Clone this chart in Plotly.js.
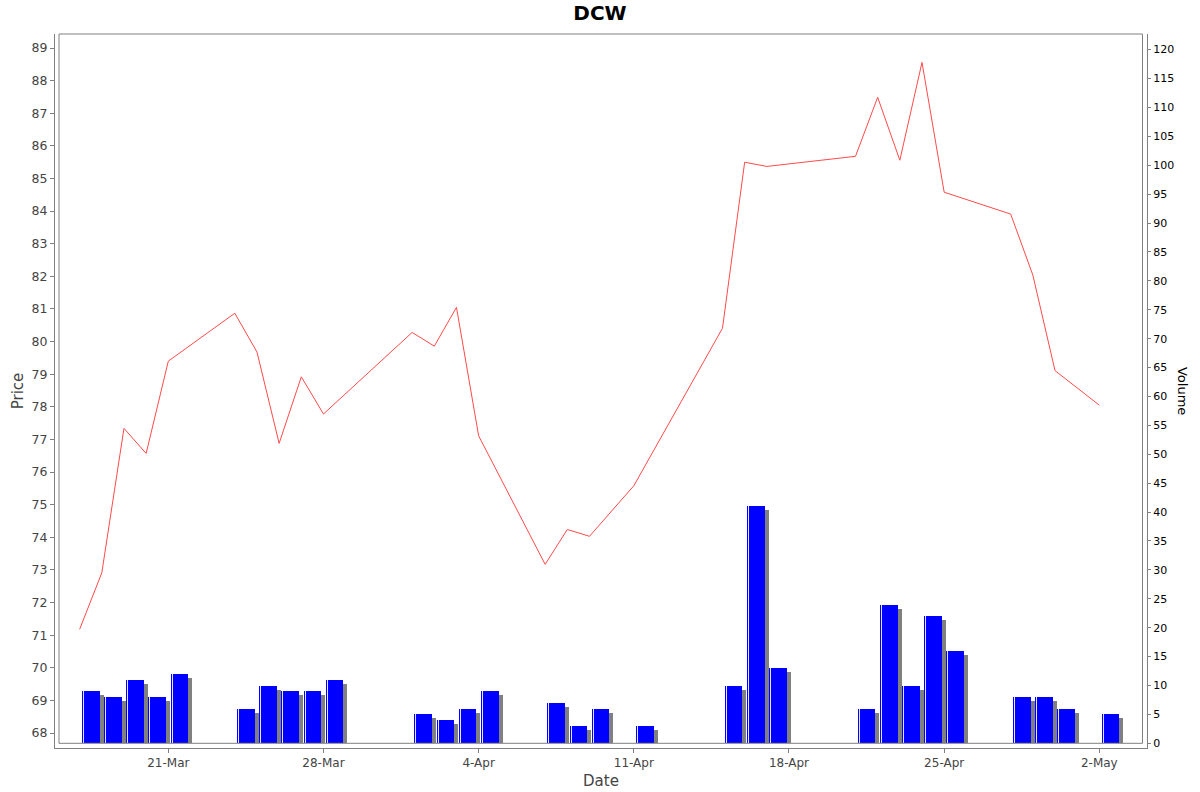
<!DOCTYPE html>
<html>
<head>
<meta charset="utf-8">
<script src="https://cdn.plot.ly/plotly-3.0.1.min.js"></script>
<style>
  html, body { margin: 0; padding: 0; background: #fff; }
  #chart { width: 1200px; height: 792px; }
</style>
</head>
<body>
<div id="chart"></div>
<script>
// trading days (2025)
const dates = [
    '2025-03-17', '2025-03-18', '2025-03-19', '2025-03-20', '2025-03-21',
    '2025-03-24', '2025-03-25', '2025-03-26', '2025-03-27', '2025-03-28',
    '2025-04-01', '2025-04-02', '2025-04-03', '2025-04-04',
    '2025-04-07', '2025-04-08', '2025-04-09', '2025-04-11',
    '2025-04-15', '2025-04-16', '2025-04-17',
    '2025-04-21', '2025-04-22', '2025-04-23', '2025-04-24', '2025-04-25',
    '2025-04-28', '2025-04-29', '2025-04-30', '2025-05-02'
];

const price = [
    71.18, 72.91, 77.34, 76.57, 79.40,
    80.87, 79.68, 76.88, 78.92, 77.78,
    80.28, 79.86, 81.05, 77.11,
    73.17, 74.24, 74.03, 75.58,
    80.41, 85.50, 85.37,
    85.68, 87.49, 85.56, 88.56, 84.58,
    83.91, 82.04, 79.11, 78.05
];

const volume = [
    9, 8, 11, 8, 12,
    6, 10, 9, 9, 11,
    5, 4, 6, 9,
    7, 3, 6, 3,
    10, 41, 13,
    6, 24, 10, 22, 16,
    8, 8, 6, 5
];

const DAY = 86400000;
const PX_DAY = 22.167;          // pixels per day on the date axis
const PX_VOL = 5.78;            // pixels per volume unit
const shadowPx = 4;

const gray = '#808080';
const textGray = '#444444';
const font = 'DejaVu Sans, Verdana, sans-serif';

// soft shadow behind each volume bar
const shadow = {
    x: dates,
    y: volume.map(v => v - shadowPx / PX_VOL),
    type: 'bar',
    yaxis: 'y2',
    width: 0.8 * DAY,
    offset: 0.1 * DAY + shadowPx / PX_DAY * DAY,
    marker: { color: gray, line: { width: 0 } },
    hoverinfo: 'skip',
    showlegend: false
};

const bars = {
    x: dates,
    y: volume,
    type: 'bar',
    name: 'Volume',
    yaxis: 'y2',
    width: 0.8 * DAY,
    offset: 0.1 * DAY,
    marker: { color: '#0000ff', line: { width: 0 } },
    showlegend: false
};

// thin highlight near the left edge of each bar
const shine = {
    x: dates,
    y: volume,
    type: 'bar',
    yaxis: 'y2',
    width: 1 / PX_DAY * DAY,
    offset: 0.1 * DAY + 1 / PX_DAY * DAY,
    marker: { color: '#e4e4ff', line: { width: 0 } },
    hoverinfo: 'skip',
    showlegend: false
};

const line = {
    x: dates,
    y: price,
    type: 'scatter',
    mode: 'lines',
    name: 'Price',
    line: { color: '#ff4a4a', width: 1 },
    showlegend: false
};

const layout = {
    width: 1200,
    height: 792,
    margin: { l: 55, r: 53, t: 34, b: 44, pad: 0 },
    paper_bgcolor: '#ffffff',
    plot_bgcolor: '#ffffff',
    barmode: 'overlay',
    bargap: 0,
    font: { family: font, size: 12, color: textGray },
    title: {
        text: '<b>DCW</b>',
        font: { family: font, size: 20, color: '#000000' },
        x: 0.5, xanchor: 'center',
        y: 0.984, yanchor: 'middle'
    },
    xaxis: {
        type: 'date',
        range: ['2025-03-15 21:20', '2025-05-04 03:36'],
        tick0: '2025-03-21',
        dtick: 7 * DAY,
        tickformat: '%-d-%b',
        ticks: 'outside',
        ticklen: 4,
        tickcolor: gray,
        showline: true,
        linecolor: gray,
        linewidth: 1,
        showgrid: false,
        zeroline: false,
        tickfont: { family: font, size: 12, color: textGray },
        title: { text: 'Date', font: { family: font, size: 15, color: textGray }, standoff: 6 }
    },
    yaxis: {
        range: [67.54, 89.43],
        dtick: 1,
        tick0: 68,
        ticks: 'outside',
        ticklen: 4,
        tickcolor: gray,
        showline: true,
        linecolor: gray,
        linewidth: 1,
        showgrid: false,
        zeroline: false,
        tickfont: { family: font, size: 12.5, color: textGray },
        title: { text: 'Price', font: { family: font, size: 15, color: textGray }, standoff: 4 }
    },
    yaxis2: {
        overlaying: 'y',
        side: 'right',
        range: [-0.81, 122.7],
        dtick: 5,
        tick0: 0,
        ticks: 'outside',
        ticklen: 3,
        tickcolor: gray,
        showline: true,
        linecolor: gray,
        linewidth: 1,
        showgrid: false,
        zeroline: false,
        tickfont: { family: font, size: 11, color: '#000000' }
    },
    annotations: [{
        text: 'Volume',
        xref: 'paper', yref: 'paper',
        x: 1.033, y: 0.5,
        xanchor: 'center', yanchor: 'middle',
        textangle: 90,
        showarrow: false,
        font: { family: font, size: 13, color: '#000000' }
    }],
    shapes: [{
        type: 'rect',
        xref: 'paper', yref: 'paper',
        x0: 4 / 1092, x1: 1087.5 / 1092,
        y0: 4.7 / 714, y1: 1,
        line: { color: gray, width: 1 },
        fillcolor: 'rgba(0,0,0,0)',
        layer: 'above'
    }]
};

Plotly.newPlot('chart', [shadow, bars, shine, line], layout, { displayModeBar: false, staticPlot: true });
</script>
</body>
</html>
